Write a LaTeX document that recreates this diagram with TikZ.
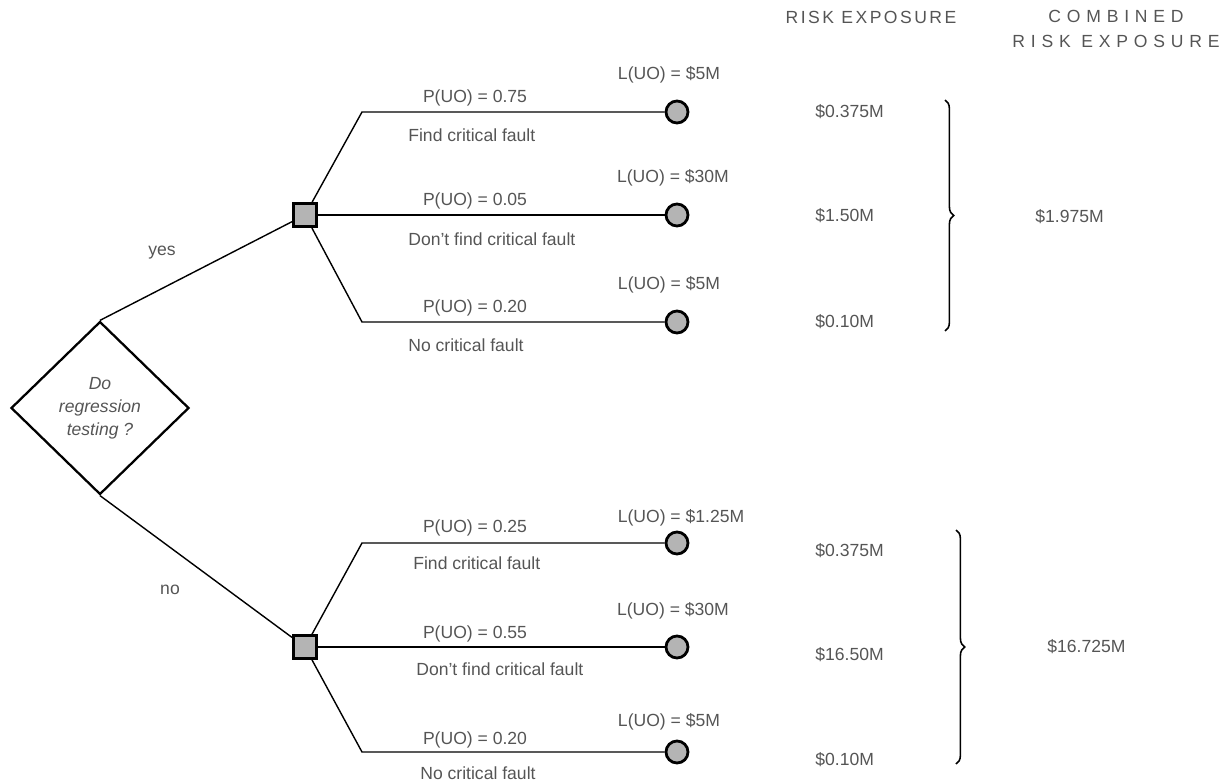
\documentclass[tikz,border=0pt]{standalone}
\usepackage{fontspec}
\setmainfont{Liberation Sans}
\usetikzlibrary{positioning, shapes.geometric, decorations.pathreplacing}
\definecolor{dtgray}{HTML}{555555}
\definecolor{dtfill}{HTML}{B4B4B4}

\begin{document}
\begin{tikzpicture}[x=0.02cm, y=-0.02cm, font=\fontsize{10}{12}\selectfont,
    lbl/.style={text=dtgray, inner sep=0pt},
    hdr/.style={text=dtgray, inner sep=0pt, align=center,
                font=\fontsize{10}{12}\selectfont\addfontfeature{LetterSpace=14}},
    choice/.style={draw, line width=1.6pt, fill=dtfill, minimum size=0.46cm, inner sep=0pt},
    chance/.style={circle, draw, line width=1.6pt, fill=dtfill, minimum size=0.44cm, inner sep=0pt},
    branch/.style={line width=0.8pt},
    brc/.style={decorate, decoration={brace, amplitude=5pt}, line width=0.9pt}]
  \useasboundingbox (0,0) rectangle (1227,784);

  % decision
  \node[diamond, draw, line width=1.3pt, minimum width=3.56cm, minimum height=3.46cm,
        inner sep=0pt, text=dtgray, align=center,
        font=\fontsize{10}{13}\selectfont\itshape] (dec) at (100,408)
        {Do\\regression\\testing ?};
  \node[choice] (sqA) at (305,215) {};
  \node[choice] (sqB) at (305,647) {};
  \draw[branch] (dec.north) -- (sqA);
  \draw[branch] (dec.south) -- (sqB);
  \node[lbl] (yes) at (162,253) {yes};
  \node[lbl] (no) at (170,590) {no};

  % outcomes, regression testing
  \coordinate (kA1) at (362,112);
  \coordinate (kA3) at (362,322);
  \node[chance] (cA1) at (677,112) {};
  \node[chance] (cA2) at (677,215) {};
  \node[chance] (cA3) at (677,322) {};
  \draw[branch] (sqA) -- (kA1) -- (cA1);
  \draw[branch] (sqA) -- (cA2);
  \draw[branch] (sqA) -- (kA3) -- (cA3);
  \node[lbl] (pA1) at (475,98) {P(UO) = 0.75};
  \node[lbl, anchor=west] (fA1) at (408,135) {Find critical fault};
  \node[lbl] (lA1) at (669,75) {L(UO) = \$5M};
  \node[lbl] (pA2) at (475,201) {P(UO) = 0.05};
  \node[lbl, anchor=west] (fA2) at (408,239) {Don't find critical fault};
  \node[lbl] (lA2) at (673,178) {L(UO) = \$30M};
  \node[lbl] (pA3) at (475,308) {P(UO) = 0.20};
  \node[lbl, anchor=west] (fA3) at (408,345) {No critical fault};
  \node[lbl] (lA3) at (669,285) {L(UO) = \$5M};

  % outcomes, no regression testing
  \coordinate (kB1) at (362,543);
  \coordinate (kB3) at (362,752);
  \node[chance] (cB1) at (677,543) {};
  \node[chance] (cB2) at (677,647) {};
  \node[chance] (cB3) at (677,752) {};
  \draw[branch] (sqB) -- (kB1) -- (cB1);
  \draw[branch] (sqB) -- (cB2);
  \draw[branch] (sqB) -- (kB3) -- (cB3);
  \node[lbl] (pB1) at (475,528) {P(UO) = 0.25};
  \node[lbl, anchor=west] (fB1) at (413,563) {Find critical fault};
  \node[lbl] (lB1) at (681,518) {L(UO) = \$1.25M};
  \node[lbl] (pB2) at (475,634) {P(UO) = 0.55};
  \node[lbl, anchor=west] (fB2) at (416,669) {Don't find critical fault};
  \node[lbl] (lB2) at (673,611) {L(UO) = \$30M};
  \node[lbl] (pB3) at (475,740) {P(UO) = 0.20};
  \node[lbl, anchor=west] (fB3) at (420,773) {No critical fault};
  \node[lbl] (lB3) at (669,722) {L(UO) = \$5M};

  % exposures
  \node[hdr] (hRE) at (871,17) {RISK EXPOSURE};
  \node[hdr, font=\fontsize{10}{12}\selectfont\addfontfeature{LetterSpace=33}]
        (hCRE) at (1116,29) {COMBINED\\[2pt]RISK EXPOSURE};
  \node[lbl, anchor=west] (rA1) at (815,112) {\$0.375M};
  \node[lbl, anchor=west] (rA2) at (815,216) {\$1.50M};
  \node[lbl, anchor=west] (rA3) at (815,322) {\$0.10M};
  \node[lbl, anchor=west] (rB1) at (815,551) {\$0.375M};
  \node[lbl, anchor=west] (rB2) at (815,655) {\$16.50M};
  \node[lbl, anchor=west] (rB3) at (815,760) {\$0.10M};
  \draw[brc] (945,100) -- (945,331);
  \draw[brc] (956,530) -- (956,764);
  \node[lbl, anchor=west] (totA) at (1035,217) {\$1.975M};
  \node[lbl, anchor=west] (totB) at (1047,647) {\$16.725M};
\end{tikzpicture}
\end{document}
